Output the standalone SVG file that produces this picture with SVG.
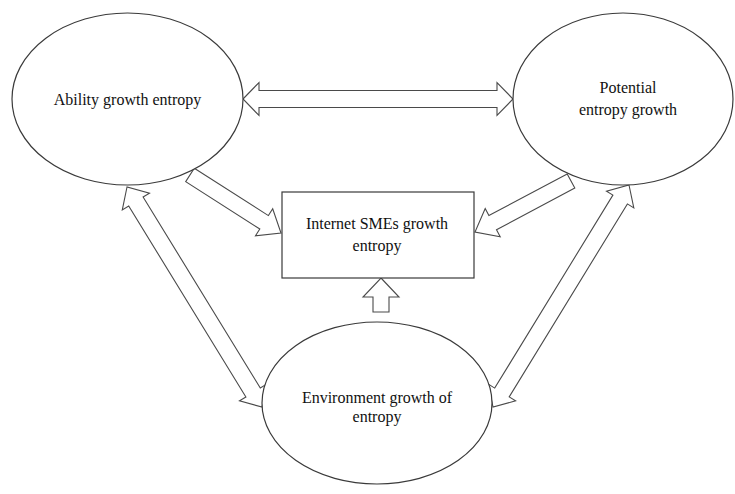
<svg xmlns="http://www.w3.org/2000/svg" width="735" height="494" viewBox="0 0 735 494">
<style>
.arrow{fill:#fff;stroke:#4a4a4a;stroke-width:1.1;stroke-linejoin:miter}
.node{fill:#fff;stroke:#3a3a3a;stroke-width:1.2}
.lbl{font-family:"Liberation Serif","Times New Roman",serif;font-size:16px;fill:#111;text-anchor:middle}
</style>
<rect width="735" height="494" fill="#fff"/>
<g id="connectors">
<polygon class="arrow" points="243,99 259,82.5 259,90.5 497,90.5 497,82.5 513,99 497,115.5 497,107.5 259,107.5 259,115.5"/>
<polygon class="arrow" points="194.3,168.3 268.4,215.6 272.7,208.8 281,233 255.5,235.8 259.8,229 185.7,181.7"/>
<polygon class="arrow" points="567.2,173.9 488.9,215.5 485.2,208.5 475,232 500.2,236.7 496.5,229.7 574.8,188.1"/>
<polygon class="arrow" points="381,278 399,297 389,297 389,312 373,312 373,297 363,297"/>
<polygon class="arrow" points="127,187 122.3,209.9 128.7,206 245.9,397 239.5,400.9 262,407 266.7,384.1 260.3,388 143.1,197 149.5,193.1"/>
<polygon class="arrow" points="629,185 633.8,207.9 627.4,203.9 509.2,396.9 515.6,400.9 493,407 488.3,384.1 494.7,388.1 612.9,195.1 606.5,191.1"/>
</g>
<g id="ability">
<ellipse class="node" cx="127.5" cy="99" rx="115.5" ry="86"/>
<text class="lbl" x="127.5" y="105">Ability growth entropy</text>
</g>
<g id="potential">
<ellipse class="node" cx="623" cy="99" rx="110" ry="86"/>
<text class="lbl" x="628" y="93">Potential</text>
<text class="lbl" x="628" y="115">entropy growth</text>
</g>
<g id="internet">
<rect class="node" x="282" y="192" width="192" height="86"/>
<text class="lbl" x="377" y="229">Internet SMEs growth</text>
<text class="lbl" x="377" y="251">entropy</text>
</g>
<g id="environment">
<ellipse class="node" cx="377" cy="403" rx="115" ry="81"/>
<text class="lbl" x="377" y="403">Environment growth of</text>
<text class="lbl" x="377" y="422">entropy</text>
</g>
</svg>
